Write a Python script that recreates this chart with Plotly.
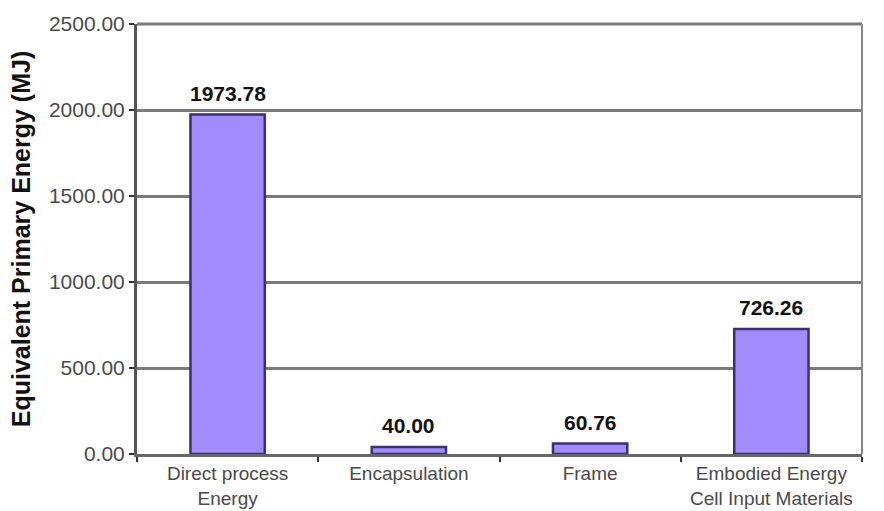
import plotly.graph_objects as go

categories = ["Direct process<br>Energy", "Encapsulation", "Frame", "Embodied Energy<br>Cell Input Materials"]
values = [1973.78, 40.00, 60.76, 726.26]
y_ticks = [0, 500, 1000, 1500, 2000, 2500]

FONT = "Liberation Sans, Arial, sans-serif"

fig = go.Figure(
    go.Bar(
        x=categories,
        y=values,
        marker=dict(color="#a08cfc", line=dict(color="#3a3072", width=2.5)),
        width=0.41,
        cliponaxis=False,
    )
)

for c, v in zip(categories, values):
    fig.add_annotation(
        x=c, y=v, xref="x", yref="y",
        text=f"{v:.2f}",
        showarrow=False,
        yanchor="bottom",
        yshift=8,
        font=dict(family=FONT, size=21, color="#111111", weight="bold"),
    )

fig.update_layout(
    width=884,
    height=511,
    margin=dict(l=137, r=22, t=24, b=57),
    paper_bgcolor="white",
    plot_bgcolor="white",
    showlegend=False,
    font=dict(family=FONT),
    xaxis=dict(
        automargin=False,
        showline=True,
        linecolor="#666666",
        linewidth=3,
        ticks="outside",
        tickson="boundaries",
        ticklen=5,
        tickwidth=2,
        tickcolor="#333333",
        tickfont=dict(family=FONT, size=19, color="#4a4a4a"),
        ticklabelstandoff=0,
        showgrid=False,
    ),
    yaxis=dict(
        automargin=False,
        range=[0, 2500],
        tickvals=y_ticks,
        tickformat=".2f",
        showline=True,
        linecolor="#555555",
        linewidth=3,
        ticks="outside",
        ticklen=5,
        tickwidth=2,
        tickcolor="#333333",
        tickfont=dict(family=FONT, size=21, color="#4a4a4a"),
        showgrid=True,
        gridcolor="#7a7a7a",
        gridwidth=3,
        zeroline=False,
        title=dict(
            text="Equivalent Primary Energy (MJ)",
            font=dict(family=FONT, size=25, color="#111111", weight="bold"),
            standoff=12,
        ),
    ),
    shapes=[
        dict(type="line", xref="paper", yref="paper", x0=0, x1=1, y0=1, y1=1,
             line=dict(color="#7a7a7a", width=3)),
        dict(type="line", xref="paper", yref="paper", x0=1, x1=1, y0=0, y1=1,
             line=dict(color="#8a8a8a", width=2)),
    ],
)

fig.write_html("out.html")
